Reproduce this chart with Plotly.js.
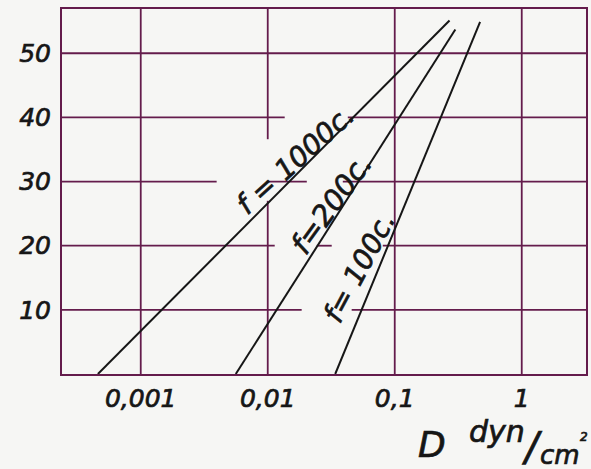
<!DOCTYPE html>
<html>
<head>
<meta charset="utf-8">
<script src="https://cdn.plot.ly/plotly-3.0.1.min.js"></script>
<style>
  html, body { margin: 0; padding: 0; background: #f6f6f4; }
  #chart { width: 591px; height: 469px; }
  /* pen-drawn lettering: regular face thickened a little */
  #chart .xtick text, #chart .ytick text, #chart .annotation-text {
    stroke: #161616; stroke-width: 0.7px;
  }
</style>
</head>
<body>
<div id="chart"></div>
<script>
// Level (vertical axis) against pressure D in dyn/cm² on a log scale,
// one straight line per frequency.
const d1000 = [0.00046, 0.0149, 0.27];
const level1000 = [0, 30, 55.1];

const d200 = [0.0056, 0.0518, 0.30];
const level200 = [0, 30, 53.7];

const d100 = [0.034, 0.143, 0.47];
const level100 = [0, 30, 54.9];

// Axis ticks
const xTickVals = [0.001, 0.01, 0.1, 1];
const xTickText = ['0,001', '0,01', '0,1', '1'];
const yTickVals = [10, 20, 30, 40, 50];
const yTickText = ['10', '20', '30', '40', '50'];

// Axis limits (log10 for x)
const xLogRange = [-3.62, 0.506];
const yRange = [0, 56.9];
const xMin = Math.pow(10, xLogRange[0]);
const xMax = Math.pow(10, xLogRange[1]);

// Hand-ruled grid: horizontal pieces [level, D from, D to], left open around the lettering
const hSegments = [
  [10, xMin, 0.0185], [10, 0.0458, xMax],
  [20, xMin, 0.01135], [20, 0.0243, 0.0319], [20, 0.0805, xMax],
  [30, xMin, 0.00396], [30, 0.0098, 0.0203], [30, 0.039, xMax],
  [40, xMin, 0.0136], [40, 0.0427, xMax],
  [50, xMin, xMax]
];
// vertical pieces [D, level from, level to]
const vSegments = [
  [0.001, yRange[0], yRange[1]],
  [0.01, yRange[0], 27.0], [0.01, 36.6, yRange[1]],
  [0.1, yRange[0], yRange[1]],
  [1, yRange[0], yRange[1]]
];

const gridColor = '#641c4c';
const inkColor = '#161616';
const labelFont = 'DejaVu Sans, Liberation Sans, sans-serif';

const gx = [], gy = [];
hSegments.forEach(s => { gx.push(s[1], s[2], null); gy.push(s[0], s[0], null); });
vSegments.forEach(s => { gx.push(s[0], s[0], null); gy.push(s[1], s[2], null); });

const traces = [
  { x: gx, y: gy, mode: 'lines', line: { color: gridColor, width: 1.8 },
    hoverinfo: 'skip', showlegend: false, connectgaps: false },
  { x: d1000, y: level1000, mode: 'lines', name: 'f = 1000c.',
    line: { color: inkColor, width: 2 }, showlegend: false },
  { x: d200, y: level200, mode: 'lines', name: 'f=200c.',
    line: { color: inkColor, width: 2 }, showlegend: false },
  { x: d100, y: level100, mode: 'lines', name: 'f= 100c.',
    line: { color: inkColor, width: 2 }, showlegend: false }
];

const italic = (size) => ({ family: labelFont, size: size, color: inkColor, style: 'italic' });

const annotations = [
  { text: 'f = 1000c.', x: 0.446, y: 0.588, textangle: -42, font: italic(28) },
  { text: 'f=200c.', x: 0.514, y: 0.466, textangle: -54, font: italic(29) },
  { text: 'f= 100c.', x: 0.567, y: 0.293, textangle: -62, font: italic(28) },
  { text: 'D', x: 0.706, y: -0.192, font: italic(36) },
  { text: 'dyn', x: 0.830, y: -0.158, font: italic(30) },
  { text: '/', x: 0.898, y: -0.200, font: italic(40) },
  { text: 'cm', x: 0.950, y: -0.222, font: italic(26) },
  { text: '2', x: 0.997, y: -0.172, font: italic(12) }
].map(a => Object.assign({ xref: 'paper', yref: 'paper', showarrow: false,
                           xanchor: 'center', yanchor: 'middle' }, a));

const layout = {
  width: 591, height: 469,
  margin: { l: 62, r: 5, t: 9, b: 95 },
  paper_bgcolor: '#f6f6f4',
  plot_bgcolor: '#f6f6f4',
  showlegend: false,
  xaxis: {
    type: 'log', range: xLogRange,
    showgrid: false, zeroline: false,
    showline: true, mirror: true, linecolor: gridColor, linewidth: 2,
    ticks: '', tickvals: xTickVals, ticktext: xTickText,
    ticklabelstandoff: 1,
    tickfont: italic(25)
  },
  yaxis: {
    range: yRange,
    showgrid: false, zeroline: false,
    showline: true, mirror: true, linecolor: gridColor, linewidth: 2,
    ticks: '', tickvals: yTickVals, ticktext: yTickText,
    ticklabelstandoff: 4,
    tickfont: italic(25)
  },
  annotations: annotations
};

Plotly.newPlot('chart', traces, layout, { staticPlot: true, displayModeBar: false });
</script>
</body>
</html>
